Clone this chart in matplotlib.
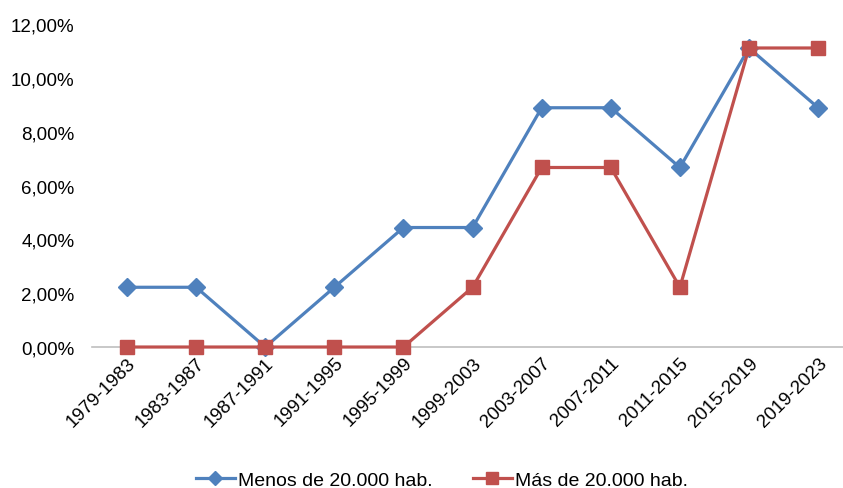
import matplotlib.pyplot as plt
from matplotlib.ticker import FuncFormatter

plt.rcParams['font.family'] = ['Liberation Sans', 'DejaVu Sans']

periodos = ['1979-1983', '1983-1987', '1987-1991', '1991-1995', '1995-1999',
            '1999-2003', '2003-2007', '2007-2011', '2011-2015', '2015-2019',
            '2019-2023']
menos_20000 = [2.22, 2.22, 0.0, 2.22, 4.44, 4.44, 8.89, 8.89, 6.67, 11.11, 8.89]
mas_20000 = [0.0, 0.0, 0.0, 0.0, 0.0, 2.22, 6.67, 6.67, 2.22, 11.11, 11.11]

fig = plt.figure(figsize=(8.43, 4.89), dpi=100)
ax = fig.add_axes([0.1097, 0.2883, 0.8903, 0.6605])

x = range(len(periodos))
ax.plot(x, menos_20000, color='#4F81BD', lw=2.3, marker='D', ms=9,
        label='Menos de 20.000 hab.', clip_on=False, zorder=3)
ax.plot(x, mas_20000, color='#C0504D', lw=2.3, marker='s', ms=10.5,
        label='Más de 20.000 hab.', clip_on=False, zorder=4)

ax.set_xlim(-0.5, 10.36)
ax.set_ylim(0, 12)
ax.set_yticks(range(0, 13, 2))
ax.yaxis.set_major_formatter(FuncFormatter(lambda v, p: f'{v:.2f}%'.replace('.', ',')))
ax.set_xticks(list(x))
ax.set_xticklabels(periodos, rotation=45, ha='right', rotation_mode='anchor')

for s in ['top', 'right', 'left']:
    ax.spines[s].set_visible(False)
ax.spines['bottom'].set_color('#BFBFBF')
ax.spines['bottom'].set_linewidth(1.2)
ax.tick_params(axis='both', length=0, labelsize=13.5, colors='black')
ax.tick_params(axis='y', pad=13)
ax.tick_params(axis='x', pad=5)

fig.legend(loc='center', bbox_to_anchor=(0.524, 0.016), ncol=2, frameon=False,
           fontsize=14, handlelength=2.0, handletextpad=0.15, columnspacing=2.1,
           markerscale=0.8)

fig.savefig('out.png', dpi=100)
